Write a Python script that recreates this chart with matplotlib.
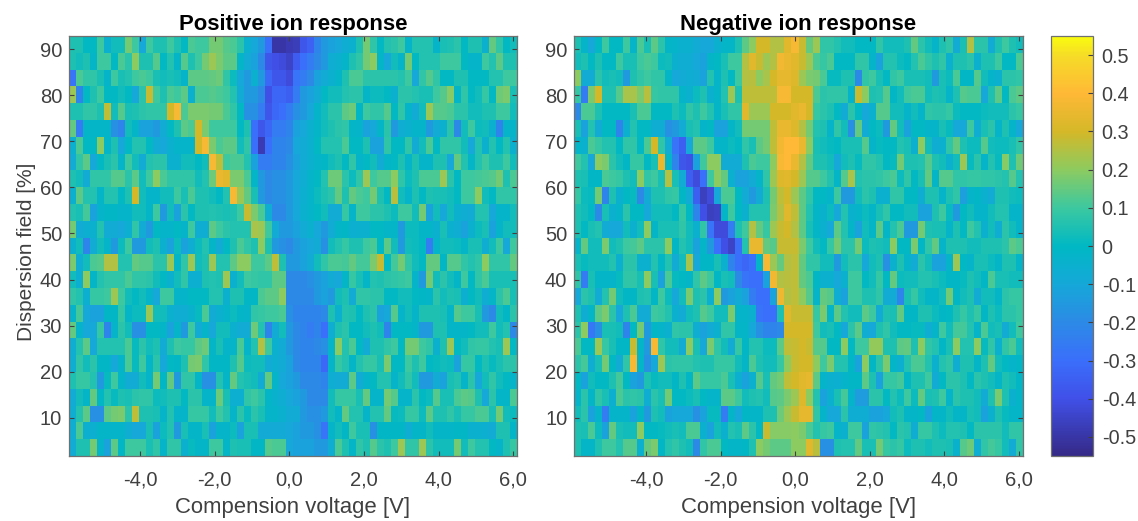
import matplotlib

matplotlib.use("Agg")
import matplotlib.pyplot as plt
import numpy as np
from matplotlib.colors import LinearSegmentedColormap

plt.rcParams["font.family"] = ["Liberation Sans", "DejaVu Sans"]

# values in hundredths, top row first
pos_rows = [
    [5,5,0,0,10,-5,3,3,17,10,-10,10,5,5,10,5,0,12,10,10,17,17,13,12,7,-5,-10,-15,-30,-50,-50,-48,-47,-38,-34,-22,-15,-12,-10,-7,-5,5,17,8,0,6,7,10,-3,6,6,6,-3,4,5,7,0,5,5,-5,15,8,0,3],
    [5,3,5,-2,10,10,0,12,7,20,5,5,13,0,6,-2,13,5,10,17,22,18,14,14,-2,-8,-12,-20,-38,-40,-42,-45,-36,-30,-25,-20,-15,-7,-5,-3,5,8,17,20,-2,-10,3,-3,17,0,6,6,6,10,10,10,0,-3,-3,10,6,14,5,5],
    [-28,12,8,8,4,-3,10,4,6,10,12,10,4,3,4,3,-3,14,14,14,15,16,8,2,-10,-15,-5,-15,-32,-38,-38,-42,-28,-25,-20,-12,-8,-5,-2,5,12,12,7,7,7,7,7,6,10,-10,8,13,8,0,0,5,5,0,0,0,6,6,10,10],
    [22,-22,0,5,10,0,0,3,0,-10,7,28,10,5,12,10,14,-5,12,12,13,12,10,6,-8,-15,-15,-20,-40,-33,-33,-35,-25,-15,-12,-8,0,3,3,6,7,7,-2,2,2,0,-5,7,7,6,4,4,10,13,19,-2,8,0,3,9,0,16,18,4],
    [5,5,8,8,5,27,3,13,4,5,7,8,8,8,30,38,12,18,18,18,17,17,12,8,0,-18,-18,-25,-38,-32,-30,-25,-18,-15,-10,-3,3,7,7,14,16,-1,10,8,8,13,0,8,-3,-8,3,22,13,13,12,7,7,3,3,5,5,10,10,3],
    [15,-25,-2,-2,-2,-2,-18,-22,3,-2,-12,-12,-15,-8,0,5,14,12,30,18,10,10,10,10,0,5,-30,-38,-33,-25,-25,-22,-12,-10,-5,-2,3,5,7,8,-2,-3,-12,-10,-2,7,-15,-7,-5,-3,-3,-15,-8,-5,7,-20,3,10,2,3,-5,-22,-3,-3],
    [-5,12,0,0,20,-2,5,-10,0,6,6,0,-8,-10,-5,-3,-3,-3,30,38,18,12,14,14,3,8,-30,-48,-30,-22,-22,-20,-10,-8,-5,0,6,6,6,12,0,0,5,-12,-12,8,0,0,8,-8,3,12,0,8,8,8,3,-10,6,-5,6,0,6,-5],
    [-8,8,14,-10,0,4,7,-3,10,3,-8,6,7,7,-5,-5,3,3,0,3,38,27,10,12,12,6,-12,-25,-25,-22,-22,-18,-12,-8,-5,-3,-1,3,5,0,8,-3,0,3,-8,-2,0,5,-3,5,-3,-3,5,5,-10,15,6,-2,6,10,5,5,10,3],
    [5,3,-8,8,8,8,13,13,7,14,3,10,20,12,8,8,8,8,3,6,16,35,33,18,18,12,-2,-15,-20,-18,-18,-15,-10,-7,-3,0,6,16,16,7,2,8,22,10,13,13,20,8,2,5,12,12,12,22,7,0,10,10,11,12,13,17,5,12],
    [-5,14,6,6,-2,6,6,0,5,30,3,-3,-3,3,3,10,4,12,5,5,3,0,6,38,22,15,4,-15,-20,-18,-18,-15,-10,-6,-3,2,5,7,15,5,15,12,10,17,5,0,26,3,-3,5,0,5,4,4,3,0,10,10,20,3,0,8,8,8],
    [6,4,11,-12,-3,-1,-1,-3,-3,3,3,-2,10,-15,3,-12,7,0,5,5,6,5,4,5,10,28,18,12,-7,-20,-20,-15,-10,-5,-3,0,3,-8,-8,9,-3,10,10,7,7,5,2,10,10,3,17,-12,3,-10,3,-5,-7,-8,6,6,-10,-3,-3,3],
    [17,-8,-6,-5,6,-8,-8,-10,-6,8,-8,-15,0,-3,-3,0,-3,10,-7,-7,14,10,7,6,6,6,24,22,10,-8,-15,-15,-12,-8,-5,-10,-15,-8,-2,-1,-6,-5,-5,0,0,-2,-2,-15,2,2,-2,-2,-5,4,-5,-7,-12,-5,2,4,-12,-3,3,3],
    [-5,3,-22,-8,3,-3,-15,2,10,-15,-15,3,5,-5,-12,2,-12,-7,2,6,-2,-8,0,5,12,8,5,20,5,-15,-18,-20,-15,-12,-10,-8,-18,3,6,9,5,5,10,12,0,14,3,-15,3,2,0,-25,-3,3,3,2,-2,4,4,-7,3,10,-10,10],
    [18,-7,3,12,13,25,25,6,6,15,13,13,7,7,22,-2,8,22,3,5,22,6,6,14,20,20,10,10,14,27,5,-15,-15,-12,-8,3,8,12,12,11,15,11,11,18,28,0,11,17,8,3,0,15,15,-1,13,13,8,6,8,20,8,8,8,15],
    [3,-6,20,-2,6,8,8,8,12,8,8,7,3,0,-5,3,8,-6,-6,5,6,5,22,-5,3,10,9,8,8,14,14,-20,-20,-20,-18,-15,-12,-8,-10,-2,9,4,-2,6,5,7,8,9,10,-3,-15,17,3,7,3,-2,10,0,8,12,4,4,4,4],
    [8,6,-6,9,9,10,22,10,3,0,3,-3,-10,10,10,-3,-3,0,0,0,6,6,-5,5,5,-1,-1,12,14,14,20,-20,-20,-20,-20,-15,-12,-15,3,5,-8,8,8,7,7,0,0,3,3,0,-1,-2,7,3,5,4,-6,0,3,-7,-2,7,12,4],
    [-3,11,-10,-12,-12,-1,-1,9,-2,2,2,22,3,3,-5,-7,-7,-4,1,12,-8,-5,-3,2,-2,-3,8,9,10,10,12,-18,-22,-22,-22,-22,-20,5,-5,6,5,0,5,7,-12,-10,13,-3,3,-3,5,5,5,4,-2,13,10,10,4,-15,-20,3,-1,7],
    [15,-3,-10,-10,9,-22,-3,7,3,-18,-18,0,0,-2,-12,-3,-15,10,-8,-3,-10,3,3,-5,-8,-8,16,6,-22,-8,3,-15,-20,-22,-25,-22,-30,-7,5,7,0,0,3,5,3,-22,0,0,0,-2,-15,-15,5,5,-2,-2,-2,0,3,3,10,3,6,-20],
    [-7,6,14,-10,6,6,6,6,12,1,7,3,5,-8,5,10,9,9,14,16,-2,4,-3,-3,12,-3,6,25,10,-5,-8,-15,-20,-22,-22,-20,-18,-3,20,6,12,0,-8,5,5,8,10,0,17,17,10,8,-5,5,22,0,3,8,9,9,6,4,22,0],
    [-7,8,3,7,-1,-1,-10,-3,12,1,10,-2,7,-10,0,-1,5,17,18,8,-1,-1,-1,5,13,2,3,3,-8,-6,-8,-12,-20,-22,-22,-22,-32,-3,9,6,-2,6,9,9,4,18,0,0,10,5,10,0,1,3,2,-12,9,9,0,5,1,4,7,7],
    [5,9,9,6,-15,1,10,-2,-8,-8,3,-3,17,-1,15,-15,8,8,-2,-18,-18,6,-2,15,6,4,3,-8,15,-3,-10,-12,-15,-20,-20,-20,-22,-7,-8,-8,14,-8,-3,0,6,6,-3,3,8,3,-15,-15,-8,-12,4,6,-3,7,-10,3,8,3,0,-3],
    [-8,3,-2,15,-1,6,1,5,4,7,8,8,2,3,5,5,0,7,7,-3,-3,16,4,-6,-6,8,10,7,-2,-4,-7,-10,-12,-15,-20,-20,-20,3,9,9,9,4,15,-3,-3,17,13,-3,-3,7,0,2,13,4,4,12,14,13,5,-10,7,-2,-2,12],
    [-7,6,14,-18,-18,14,17,18,7,27,5,5,4,-3,6,-3,-3,9,9,9,3,10,6,-3,7,1,7,4,-3,-3,-5,-8,-8,-15,-18,-18,-15,3,-2,15,6,6,-3,6,6,15,1,2,9,9,2,14,5,5,8,4,9,9,12,12,4,17,3,2],
    [-7,12,-6,-6,-2,-2,-3,-3,-7,-10,-10,4,-12,2,6,-15,4,-2,-2,4,-12,-3,-3,2,-12,4,4,-9,-9,-9,-9,-10,-12,-15,-15,-18,-28,-3,3,-1,10,4,4,-18,-1,-1,-1,-1,-7,-2,-2,3,-2,-2,-2,-1,-1,-5,-5,-6,-8,5,5,-2],
    [-8,5,5,17,-3,-12,14,-1,10,10,10,4,8,-3,8,8,-5,1,-2,-2,10,10,-2,5,4,4,-1,-1,13,12,12,-10,-12,-12,-12,-15,-15,-7,12,5,-2,8,5,13,7,5,10,22,8,8,22,7,3,3,3,17,3,10,6,6,0,-3,5,9],
]

neg_rows = [
    [5,-3,-10,0,10,0,0,10,-3,12,4,14,7,-2,-3,-5,-5,-8,-10,-10,-5,-2,-2,5,14,20,30,30,25,25,33,38,28,15,22,8,8,6,3,3,0,0,0,8,3,3,3,5,15,7,3,-3,5,8,-8,4,25,7,7,-8,5,10,5,3],
    [3,5,0,5,0,0,10,4,4,10,12,10,2,3,-5,-7,-7,-10,-12,-2,0,4,10,10,25,33,28,22,25,37,35,33,28,22,12,9,12,0,0,0,8,8,-3,-12,6,6,2,0,6,12,8,5,8,-5,5,5,7,-5,5,5,10,0,0,12],
    [20,-8,-8,7,3,4,3,-15,5,8,10,8,8,-2,-10,-8,-7,-8,-12,6,-3,5,0,10,25,26,20,24,30,34,34,32,22,18,17,12,1,1,5,5,-20,8,10,4,0,8,10,4,4,4,3,-15,4,2,12,-1,-1,13,3,-3,-5,7,7,8],
    [9,-25,18,30,5,5,13,24,24,18,26,9,8,8,8,-3,-5,2,5,-5,-2,6,22,5,27,27,27,27,27,38,38,30,30,30,12,7,8,8,8,-3,28,20,5,6,13,-1,3,10,12,12,3,5,4,-3,5,13,12,12,-10,5,14,0,12,14],
    [-20,12,12,5,0,0,0,0,4,12,12,0,0,0,5,2,8,5,10,6,-2,4,8,8,33,22,22,22,30,30,30,33,35,30,9,7,5,0,-8,7,0,-10,-5,13,13,3,3,-3,3,-3,8,7,7,9,2,0,0,0,2,3,3,3,7,9],
    [4,-12,6,-8,0,0,-22,-5,6,0,0,-7,-7,-18,-15,-8,4,6,-3,0,-12,-12,-2,3,17,17,17,17,27,35,35,32,25,17,6,5,-3,8,3,-18,15,-8,0,2,-15,15,3,-12,0,0,-3,-3,4,1,-10,-10,10,-7,4,7,-3,5,-3,-10],
    [-2,-5,12,9,6,6,0,8,8,0,12,30,8,-8,-28,-35,-10,14,14,10,-3,-2,2,0,8,4,14,17,27,37,40,40,35,20,4,3,1,0,4,4,4,13,-3,1,0,0,6,4,-5,20,3,-7,-5,8,15,5,2,2,13,3,2,2,4,8],
    [10,6,-10,20,18,7,3,-1,9,9,0,4,35,-2,-22,-38,-40,-12,10,20,20,-8,-8,-8,5,12,10,10,20,38,40,35,25,15,5,5,3,-10,3,5,1,8,8,6,0,1,17,5,5,6,13,5,3,-5,3,22,1,7,-3,6,1,19,5,16],
    [5,4,-1,-1,12,10,9,5,3,20,8,10,4,25,4,-8,-35,-42,-30,10,20,15,-5,-12,-12,-8,-3,8,22,32,33,30,22,13,13,10,6,-2,13,24,6,7,7,8,10,12,2,8,0,4,15,-2,13,13,8,8,9,9,8,8,7,6,13,6],
    [9,2,1,17,-22,5,-5,0,1,-20,-8,5,5,8,9,-1,-8,-35,-46,-42,-10,12,12,0,-8,-15,-8,5,17,27,30,22,14,8,0,0,-3,10,-15,-15,3,7,5,-5,-5,8,8,0,0,-7,5,5,-3,5,8,-13,-3,-1,-5,-8,5,5,3,2],
    [5,3,0,-20,4,-5,-3,7,0,0,-10,3,3,3,0,9,0,-22,-40,-46,-45,-2,10,0,-5,6,6,6,18,25,33,27,14,6,-2,-4,2,-10,6,-4,-3,2,-2,4,8,0,0,3,3,-12,-12,5,10,1,-15,0,3,-3,-3,3,6,6,-3,-3],
    [5,0,4,6,-8,-10,-10,3,-5,3,20,-2,4,4,4,8,3,-5,8,-28,-42,-42,-25,5,10,25,15,9,22,28,30,25,14,4,-2,-5,-10,14,6,-2,-12,3,-2,14,-2,6,12,-15,-15,17,5,4,4,-3,5,0,10,6,-5,3,-7,7,3,-3],
    [-3,15,3,3,18,3,5,10,11,14,7,7,7,20,-1,6,3,-12,-2,-15,-30,-40,-45,-30,6,35,35,15,13,28,28,28,18,10,3,0,9,17,7,7,17,2,5,4,3,20,0,0,18,-1,8,15,-3,5,5,5,3,3,5,5,5,7,14,12],
    [4,1,3,3,3,6,-5,7,7,-5,-5,6,-1,6,-8,3,24,-10,-1,-1,4,-5,-22,-30,-33,-30,-2,38,22,15,25,27,15,8,8,3,3,-15,3,7,7,-10,3,5,-18,-5,5,-3,-8,7,3,-12,-12,-3,22,0,-3,4,4,2,-2,5,5,-2],
    [8,-25,4,-2,-2,-3,1,8,8,4,20,4,-12,12,1,0,-2,8,14,10,-1,4,3,-20,-28,-30,-30,-12,37,25,26,27,15,12,-1,-5,-5,-10,-5,10,10,0,3,9,0,15,2,3,3,6,6,4,2,-1,-1,1,5,3,-1,12,4,4,3,3],
    [-10,7,5,-8,6,17,3,-1,-1,5,6,-1,10,2,-10,3,18,5,7,-6,20,-15,-12,-8,-12,-25,-30,-30,-12,36,25,27,20,13,-3,15,13,-7,-12,10,10,5,5,8,-8,-8,-22,4,9,3,-2,-2,3,17,-1,3,5,-8,3,3,-2,7,9,9],
    [5,-7,-2,14,18,7,-10,5,12,-8,-8,10,9,6,-5,-8,3,5,13,10,3,3,18,-3,-3,-5,-28,-30,-30,5,33,28,28,28,9,18,-2,14,6,3,3,14,10,-8,5,4,15,-1,-1,5,5,2,-1,0,5,9,5,9,-1,5,2,7,7,9],
    [7,20,-27,-18,4,4,3,-22,0,17,-15,-1,-3,-5,8,7,7,-7,-12,-8,-5,8,8,-2,-2,-10,-18,-22,-22,-20,30,30,30,30,10,3,4,0,-10,7,14,-7,-10,5,8,3,0,0,1,1,-7,-3,10,3,11,11,6,-3,12,3,4,-8,3,10],
    [12,0,0,22,9,4,-1,-1,28,-2,-15,38,8,3,3,-8,20,4,-10,18,8,3,-8,9,-1,6,6,2,2,14,27,28,30,28,13,13,0,0,20,0,10,10,21,21,5,5,14,15,5,20,8,6,-1,4,20,6,6,20,1,8,-5,8,12,3],
    [7,11,-7,4,17,0,-8,8,38,-2,-18,-10,22,7,8,8,8,6,5,5,9,9,9,3,-2,12,5,3,3,9,20,28,30,30,20,10,18,6,6,-1,-12,20,-1,7,18,-2,-6,6,12,12,6,-5,6,8,-7,5,5,-2,5,15,3,0,-3,-1],
    [0,-12,3,0,0,5,11,0,-12,-15,5,1,3,3,-1,5,-1,14,9,9,9,12,4,-6,-12,-5,13,4,15,17,27,30,33,34,14,-3,-5,-6,-3,-1,-1,14,5,-12,9,9,11,-1,5,5,10,-8,0,7,7,5,0,7,5,3,-2,5,3,-1],
    [-3,7,-2,8,4,-6,12,7,8,7,-7,7,4,17,0,0,2,4,0,-3,-3,14,14,10,3,5,6,3,13,14,18,22,32,20,6,-12,-5,4,11,-3,-14,-14,7,7,0,6,2,10,2,15,4,5,10,-3,7,5,5,3,-8,5,18,5,-5,-2],
    [3,7,-12,-3,-25,-3,-3,-3,-12,-1,-15,5,3,-12,-10,-10,-10,-18,-12,1,1,-25,-2,-10,-1,-2,-2,5,5,16,22,28,34,34,8,-3,-10,-10,7,-7,-7,-7,-12,-12,-10,3,5,-2,-2,0,-12,-2,-2,3,-2,-2,4,3,-12,-5,5,1,-2,-2],
    [5,4,12,2,-12,15,4,3,3,20,0,0,1,3,4,3,12,12,-5,-12,3,-5,6,4,14,7,0,28,19,19,19,20,18,12,6,9,10,-3,-5,10,10,-12,8,7,6,0,7,6,-7,9,9,5,2,6,6,5,0,7,7,7,7,3,8,8],
    [5,-2,-2,5,10,10,6,13,13,-5,15,18,-1,6,8,5,3,-20,8,12,12,0,-2,-2,-1,5,20,17,14,14,14,20,20,33,26,-18,-18,5,6,6,15,4,4,17,9,7,9,2,5,5,3,5,5,4,-4,13,16,-7,8,11,9,3,-8,8],
]

cbar_ticks = [-0.5, -0.4, -0.3, -0.2, -0.1, 0, 0.1, 0.2, 0.3, 0.4, 0.5]
cbar_labels = ["-0.5", "-0.4", "-0.3", "-0.2", "-0.1", "0", "0.1", "0.2", "0.3", "0.4", "0.5"]
x_ticks = [-4, -2, 0, 2, 4, 6]
x_labels = ["-4,0", "-2,0", "0,0", "2,0", "4,0", "6,0"]
y_ticks = [10, 20, 30, 40, 50, 60, 70, 80, 90]

for name, rows in (("pos", pos_rows), ("neg", neg_rows)):
    for i, row in enumerate(rows):
        if len(row) != 64:
            raise ValueError(f"{name} row {i} has {len(row)} values")

pos_values = np.array(pos_rows) / 100
neg_values = np.array(neg_rows) / 100

stops = ["#352a87", "#4050e8", "#3a6ffb", "#2c8ae6", "#15a8d8", "#00b8c4",
         "#3cc8a0", "#8ccb60", "#d4b828", "#ffb836", "#f6dc28", "#f9fb0e"]
levels = [-0.55, -0.4, -0.3, -0.2, -0.1, 0, 0.1, 0.2, 0.3, 0.4, 0.5, 0.55]
positions = [(v + 0.55) / 1.1 for v in levels]
cmap = LinearSegmentedColormap.from_list("parula_like", list(zip(positions, stops)))

W, H = 1138, 521
fig = plt.figure(figsize=(W / 100, H / 100), dpi=100)


def make_axes(x0, x1, y0, y1):
    return fig.add_axes([x0 / W, 1 - y1 / H, (x1 - x0) / W, (y1 - y0) / H])


def heat(ax, values, title, xlim):
    x_edges = np.linspace(xlim[0], xlim[1], values.shape[1] + 1)
    y_edges = np.linspace(92.85, 1.7, values.shape[0] + 1)
    mesh = ax.pcolormesh(x_edges, y_edges, values, cmap=cmap, vmin=-0.55, vmax=0.55)
    ax.set_xlim(xlim)
    ax.set_ylim(1.7, 92.85)
    ax.set_xticks(x_ticks, x_labels)
    ax.set_yticks(y_ticks)
    ax.tick_params(direction="in", top=True, right=True, length=3.5, width=0.8,
                   color="#404040", labelcolor="#404040", labelsize=14.5)
    ax.tick_params(axis="x", pad=10.5)
    ax.tick_params(axis="y", pad=5)
    for s in ax.spines.values():
        s.set_color("#707070")
        s.set_linewidth(0.9)
    ax.set_title(title, fontsize=15.9, fontweight="bold", color="black", pad=4)
    ax.set_xlabel("Compension voltage [V]", fontsize=15.9, color="#404040", labelpad=5)
    return mesh


ax1 = make_axes(69, 517, 36, 456)
ax2 = make_axes(574.3, 1022.7, 36, 456)
heat(ax1, pos_values, "Positive ion response", (-5.9, 6.1))
ax1.set_ylabel("Dispersion field [%]", fontsize=15, color="#404040", labelpad=3, y=0.487)
mesh = heat(ax2, neg_values, "Negative ion response", (-5.92, 6.1))

cax = make_axes(1050.7, 1092.7, 36, 456)
cb = fig.colorbar(mesh, cax=cax)
cb.set_ticks(cbar_ticks, labels=cbar_labels)
cb.ax.tick_params(direction="in", length=3.5, width=0.8, color="#404040",
                  labelcolor="#404040", labelsize=14.3, pad=6.5)
cb.outline.set_edgecolor("#707070")
cb.outline.set_linewidth(0.9)

fig.savefig("out.png", dpi=100)
